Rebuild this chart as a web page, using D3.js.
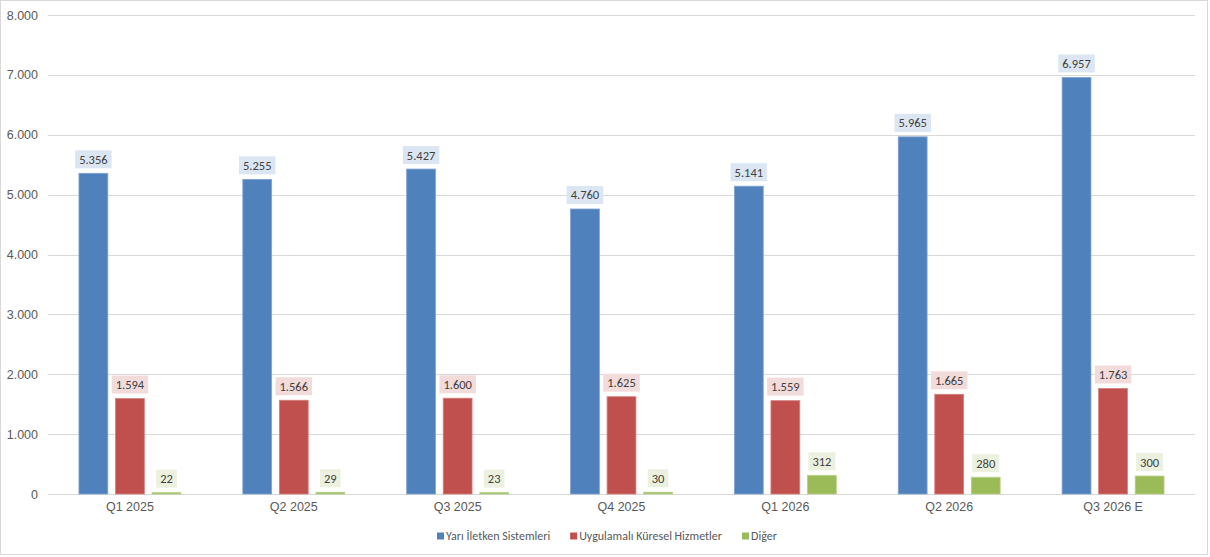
<!DOCTYPE html>
<html><head><meta charset="utf-8">
<script src="https://cdn.jsdelivr.net/npm/d3@7"></script>
<style>
html,body{margin:0;padding:0;background:#fff;}
svg{display:block;font-family:Calibri,Carlito,Lato,"Open Sans",sans-serif;}
</style></head>
<body>
<svg id="c" width="1210" height="557"></svg>
<script>
const categories = ["Q1 2025","Q2 2025","Q3 2025","Q4 2025","Q1 2026","Q2 2026","Q3 2026 E"];
const seriesNames = ["Yarı İletken Sistemleri","Uygulamalı Küresel Hizmetler","Diğer"];
const yariIletken = [5356,5255,5427,4760,5141,5965,6957];
const uygulamali = [1594,1566,1600,1625,1559,1665,1763];
const diger = [22,29,23,30,312,280,300];
const yTicks = [0,1000,2000,3000,4000,5000,6000,7000,8000];

const seriesValues = [yariIletken, uygulamali, diger];
const colors = ["#4f81bd","#c0504d","#9bbb59"];
const strokes = ["#7fa3d1","#d6807e","#b9d08a"];
const labelBg = ["#dce6f2","#f2dcdb","#ebf1de"];

const svg = d3.select("#c");
const W = 1210, H = 557;
svg.append("rect").attr("x",0.5).attr("y",0.5).attr("width",W-3).attr("height",H-3)
  .attr("fill","#fff").attr("stroke","#d9d9d9");

const pL = 48, pR = 1195, pT = 15, pB = 494;
const x = d3.scaleBand().domain(categories).range([pL,pR]).padding(0);
const y = d3.scaleLinear().domain([0,8000]).range([pB,pT]);
const fmt = v => d3.format(",")(v).replace(/,/g,".");

// gridlines
svg.append("g").selectAll("line").data(yTicks).join("line")
  .attr("x1",pL).attr("x2",pR)
  .attr("y1",d=>Math.round(y(d))+0.5).attr("y2",d=>Math.round(y(d))+0.5)
  .attr("stroke","#d9d9d9").attr("stroke-width",1);

// y axis labels
const yAxis = d3.axisLeft(y).tickValues(yTicks).tickFormat(fmt).tickSize(0).tickPadding(0);
const ya = svg.append("g").attr("transform",`translate(38,0)`).call(yAxis);
ya.select(".domain").remove();
ya.selectAll("text").attr("fill","#595959").style("font-size","12.5px").style("font-family","inherit");

// x axis labels
const xAxis = d3.axisBottom(x).tickSize(0).tickPadding(0);
const xa = svg.append("g").attr("transform",`translate(0,${pB+8})`).call(xAxis);
xa.select(".domain").remove();
xa.selectAll("text").attr("fill","#595959").style("font-size","12.5px").style("font-family","inherit");

const bw = x.bandwidth();
const barW = bw*0.176, step = bw*0.223;
const offs = [-step,0,step];

seriesValues.forEach((vals,si)=>{
  const g = svg.append("g");
  g.selectAll("rect").data(vals).join("rect")
    .attr("x",(d,i)=>x(categories[i])+bw/2+offs[si]-barW/2)
    .attr("y",d=>y(d))
    .attr("width",barW)
    .attr("height",d=>pB-y(d))
    .attr("fill",colors[si])
    .attr("stroke",strokes[si]).attr("stroke-width",0.8);
  const lgp = svg.append("g");
  vals.forEach((d,i)=>{
    const cx = x(categories[i])+bw/2+offs[si];
    const ty = y(d)-5;
    const gg = lgp.append("g");
    const r = gg.append("rect").attr("fill",labelBg[si]);
    const t = gg.append("text").attr("x",cx).attr("y",ty-4.5)
      .attr("text-anchor","middle").attr("fill","#404040")
      .style("font-size","12.5px").text(fmt(d));
    const tw = t.node().getComputedTextLength();
    r.attr("x",cx-tw/2-4).attr("y",ty-18).attr("width",tw+8).attr("height",18);
  });
});

// legend
const legendY = 536;
const lg = svg.append("g").attr("transform",`translate(437,${legendY})`);
let lx = 0;
seriesNames.forEach((n,i)=>{
  lg.append("rect").attr("x",lx).attr("y",-3.5).attr("width",7).attr("height",7).attr("fill",colors[i]);
  const t = lg.append("text").attr("x",lx+9).attr("y",4.3).attr("fill","#595959")
    .style("font-size","12px").text(n);
  lx += 9 + t.node().getComputedTextLength() + 20;
});
</script>
</body></html>
